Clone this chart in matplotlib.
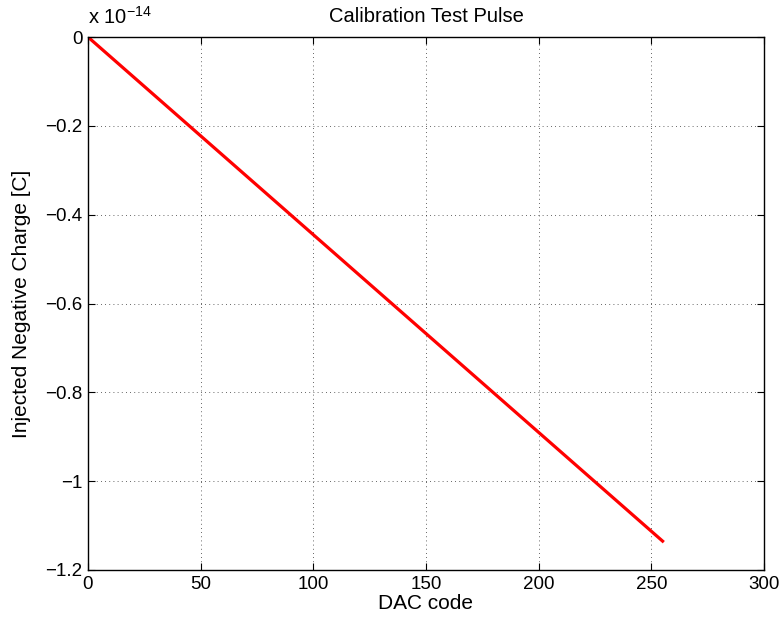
import numpy as np
import matplotlib.pyplot as plt
from matplotlib.ticker import FuncFormatter

# DAC code vs injected charge (straight line, end points)
dac_code = [0, 255]
charge = [0.0, -1.135e-14]

x_ticks = [0, 50, 100, 150, 200, 250, 300]
y_ticks = [0, -0.2e-14, -0.4e-14, -0.6e-14, -0.8e-14, -1.0e-14, -1.2e-14]

plt.rcParams['font.family'] = ['Liberation Sans', 'DejaVu Sans']
plt.rcParams['font.size'] = 13.5

fig = plt.figure(figsize=(7.84, 6.25), dpi=100)
ax = fig.add_axes([0.1122, 0.088, 0.8623, 0.8528])

ax.plot(dac_code, charge, color='red', linewidth=2.3)

ax.set_xlim(0, 300)
ax.set_ylim(-1.2e-14, 0)
ax.set_xticks(x_ticks)
ax.set_yticks(y_ticks)

def fmt(v, pos):
    s = '%g' % round(v / 1e-14, 2)
    return s.replace('-', '\u2212')

ax.yaxis.set_major_formatter(FuncFormatter(fmt))
ax.text(0, 1.017, r'x 10$^{\mathregular{-14}}$', transform=ax.transAxes,
        ha='left', va='bottom', fontsize=14.5)

ax.grid(True, linestyle=(0, (1, 4)), color='black', linewidth=0.6, alpha=0.8)
ax.tick_params(direction='in', top=True, right=True, length=5, width=0.8, pad=4)
for sp in ax.spines.values():
    sp.set_linewidth(1.0)

ax.set_xlabel('DAC code', fontsize=15, labelpad=1)
ax.set_ylabel('Injected Negative Charge [C]', fontsize=15, labelpad=10)
ax.set_title('Calibration Test Pulse', fontsize=14.5, pad=11)

fig.savefig('out.png', dpi=100)
